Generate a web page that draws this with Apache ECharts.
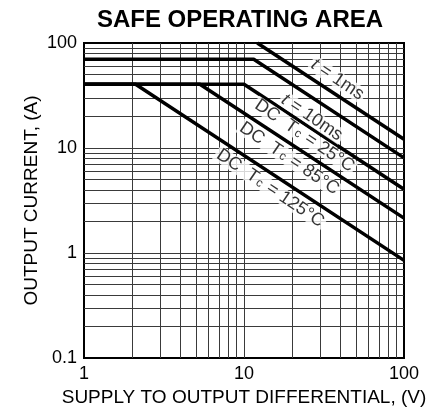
<!DOCTYPE html>
<html><head><meta charset="utf-8">
<script src="https://cdn.jsdelivr.net/npm/echarts@6/dist/echarts.min.js"></script>
<style>html,body{margin:0;padding:0;background:#fff}#c{width:446px;height:412px}</style>
</head><body><div id="c"></div>
<script>
// ---- data ----
const xTickValues = [1, 10, 100];
const xTickLabels = ['1', '10', '100'];
const yTickValues = [0.1, 1, 10, 100];
const yTickLabels = ['0.1', '1', '10', '100'];
const xGridValues = [2, 3, 4, 5, 6, 7, 8, 9, 10, 20, 30, 40, 50, 60, 70, 80, 90];
const yGridValues = [0.2, 0.3, 0.4, 0.5, 0.6, 0.7, 0.8, 0.9, 1, 2, 3, 4, 5, 6, 7, 8, 9, 10, 20, 30, 40, 50, 60, 70, 80, 90];
const curveNames = ['t = 1ms', 't = 10ms', 'DC Tc = 25°C', 'DC Tc = 85°C', 'DC Tc = 125°C'];
const curve1ms = [[12.1, 100], [100, 12.1]];
const curve10ms = [[1, 70], [11.5, 70], [100, 8.05]];
const curveDC25 = [[1, 40.5], [10, 40.5], [100, 4.05]];
const curveDC85 = [[1, 40.5], [5.3, 40.5], [100, 2.15]];
const curveDC125 = [[1, 40.5], [2.1, 40.5], [100, 0.85]];
const labelAnchors = [[38.4, 44.9], [26.6, 19.5], [23.9, 13.05], [19.2, 7.93], [14.6, 4.14]];
const labelRich = [
  '{i|t}{n| = 1ms}',
  '{i|t}{n| = 10ms}',
  '{n|DC  T}{s|c}{n| = 25°C}',
  '{n|DC  T}{s|c}{n| = 85°C}',
  '{n|DC  T}{s|c}{n| = 125°C}'
];
const curves = [curve1ms, curve10ms, curveDC25, curveDC85, curveDC125];

// ---- chart ----
const FONT = "'Liberation Sans', Arial, Helvetica, sans-serif";
const chart = echarts.init(document.getElementById('c'), null, {renderer: 'canvas'});
const fmt = (vals, labs) => v => {
  for (let i = 0; i < vals.length; i++) if (Math.abs(Math.log10(v) - Math.log10(vals[i])) < 1e-6) return labs[i];
  return '';
};
const gridLineStyle = {color: '#3a3a3a', width: 1, type: 'solid'};
const series = [];
series.push({
  type: 'line', name: 'grid', data: [], silent: true, z: 1,
  markLine: {
    silent: true, symbol: ['none', 'none'], animation: false,
    label: {show: false}, lineStyle: gridLineStyle,
    emphasis: {disabled: true},
    data: xGridValues.map(v => ({xAxis: v})).concat(yGridValues.map(v => ({yAxis: v})))
  }
});
curves.forEach((c, i) => {
  series.push({
    type: 'line', name: curveNames[i], data: c, showSymbol: false, symbol: 'none',
    lineStyle: {color: '#000', width: 3.5}, z: 5, animation: false, silent: true
  });
});
const richStyles = {
  n: {fontFamily: FONT, fontSize: 18, color: '#000', lineHeight: 16, verticalAlign: 'middle'},
  i: {fontFamily: FONT, fontSize: 18, fontStyle: 'italic', color: '#000', lineHeight: 16, verticalAlign: 'middle'},
  s: {fontFamily: FONT, fontSize: 12, color: '#000', lineHeight: 16, verticalAlign: 'bottom', padding: [0, 1, 0, 1]}
};
series.push({
  type: 'scatter', name: 'labels', z: 8, zlevel: 1, silent: true, animation: false,
  symbolSize: 0,
  data: labelAnchors.map((p, i) => ({
    value: p,
    label: {formatter: labelRich[i]}
  })),
  label: {
    show: true, position: 'inside', rotate: -34,
    backgroundColor: '#fff', padding: [0, 2, 0, 2],
    align: 'center', verticalAlign: 'middle',
    rich: richStyles
  }
});

chart.setOption({
  animation: false,
  backgroundColor: '#fff',
  graphic: [{
    type: 'text', x: 240, y: 20,
    style: {text: 'SAFE OPERATING AREA', font: "bold 24px " + FONT, fill: '#000', align: 'center', verticalAlign: 'middle'}
  }],
  grid: {left: 84, right: 42, top: 43, bottom: 50, show: true, borderColor: '#000', borderWidth: 2, backgroundColor: 'transparent'},
  xAxis: {
    type: 'log', logBase: 10, min: 1, max: 100,
    name: 'SUPPLY TO OUTPUT DIFFERENTIAL, (V)', nameLocation: 'middle', nameGap: 30, nameMoveOverlap: false,
    nameTextStyle: {fontFamily: FONT, fontSize: 19, color: '#000'},
    axisLine: {show: true, lineStyle: {color: '#000', width: 2}},
    axisTick: {show: false}, splitLine: {show: false}, minorSplitLine: {show: false},
    axisLabel: {fontFamily: FONT, fontSize: 18, color: '#000', margin: 7, formatter: fmt(xTickValues, xTickLabels)}
  },
  yAxis: {
    type: 'log', logBase: 10, min: 0.1, max: 100,
    name: 'OUTPUT CURRENT, (A)', nameLocation: 'middle', nameGap: 43, nameRotate: 90, nameMoveOverlap: false,
    nameTextStyle: {fontFamily: FONT, fontSize: 19, color: '#000'},
    axisLine: {show: true, lineStyle: {color: '#000', width: 2}},
    axisTick: {show: false}, splitLine: {show: false}, minorSplitLine: {show: false},
    axisLabel: {fontFamily: FONT, fontSize: 18, color: '#000', margin: 7, padding: [0, 0, 10, 0], formatter: fmt(yTickValues, yTickLabels)}
  },
  series: series
});
</script></body></html>
